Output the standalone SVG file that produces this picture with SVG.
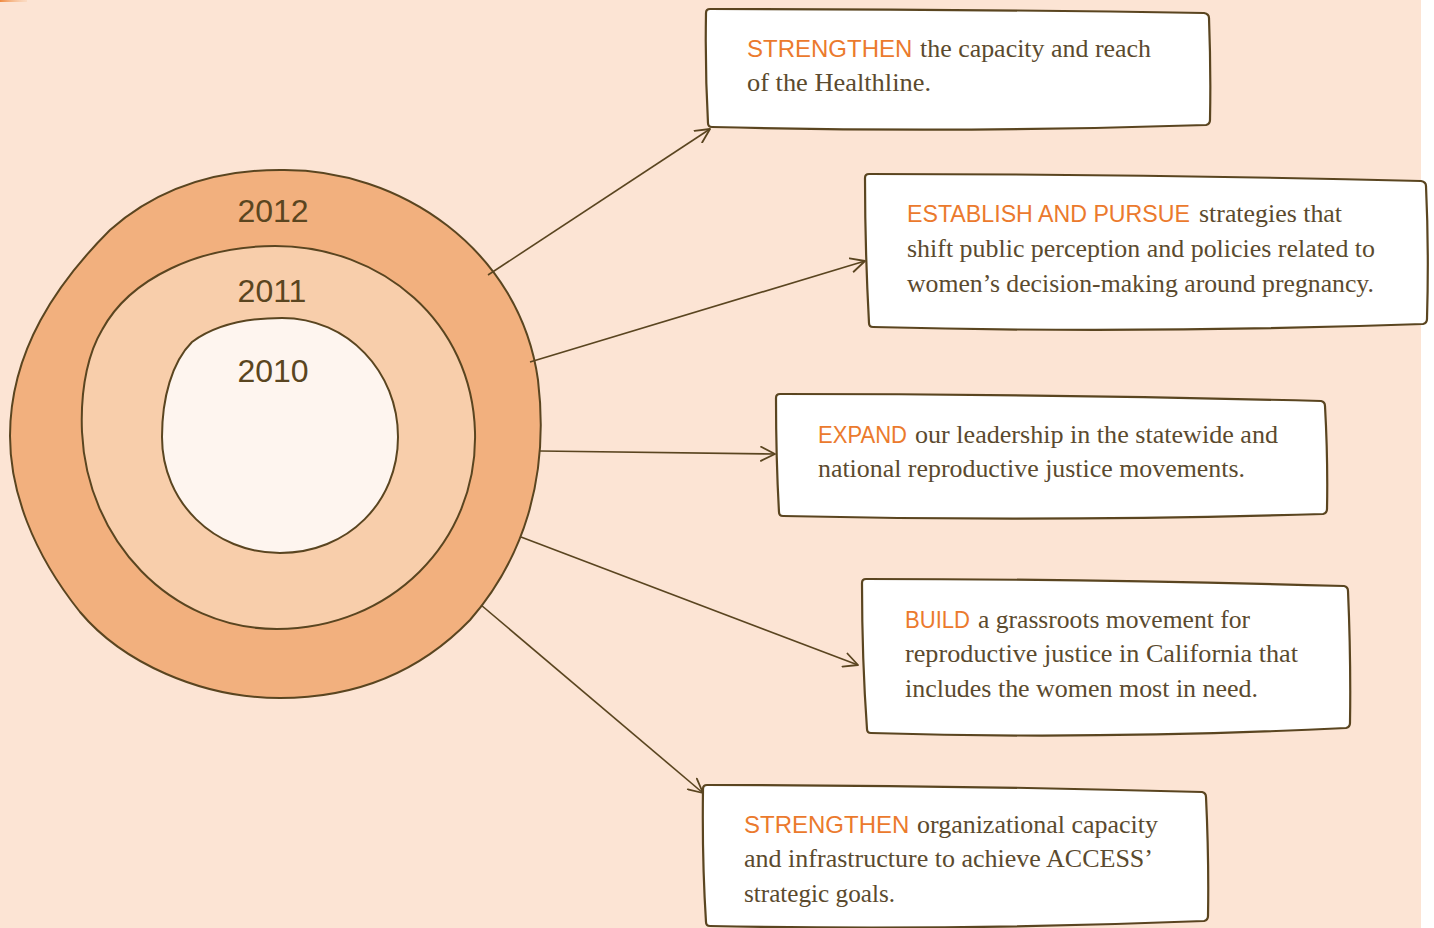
<svg xmlns="http://www.w3.org/2000/svg" width="1434" height="928" viewBox="0 0 1434 928">
<defs>
<style>
.bg{fill:#FCE4D4}
.ring{stroke:#5A4520;stroke-width:2}
.box{fill:#FFFFFF;stroke:#5A4520;stroke-width:2.2;stroke-linejoin:round}
.conn{stroke:#5A4520;stroke-width:1.6;fill:none}
.yr{font-family:"Liberation Sans",Arial,sans-serif;font-size:32px;fill:#5A4520;text-anchor:middle}
.hw{font-family:"Liberation Sans",Arial,sans-serif;font-size:24px;fill:#EB7A2D}
.sf{font-family:"Liberation Serif","Times New Roman",serif;font-size:25.5px;fill:#5B4A2E}
</style>
<linearGradient id="tl" x1="0" y1="0" x2="1" y2="0">
<stop offset="0" stop-color="#F08A40"/>
<stop offset="1" stop-color="#F8C8A0" stop-opacity="0.3"/>
</linearGradient>
<marker id="arr" viewBox="0 0 16 16" refX="15" refY="8" markerWidth="16" markerHeight="16" markerUnits="userSpaceOnUse" orient="auto">
<path d="M1,1 L15,8 L1,15" fill="none" stroke="#5A4520" stroke-width="1.8" stroke-linecap="round" stroke-linejoin="round"/>
</marker>
</defs>
<rect class="bg" x="0" y="0" width="1421" height="928"/>
<rect x="1421" y="0" width="13" height="928" fill="#FFFFFF"/>
<rect x="0" y="0" width="27" height="2" fill="url(#tl)"/>

<g id="rings">
<g id="ring-2012">
<path class="ring" fill="#F2B07E" d="M280,170 C400,168 520,250 538,380 C550,480 522,560 470,620 C410,682 340,698 280,698 C200,698 122,662 80,612 C32,552 10,490 10,436 C10,350 58,282 110,230 C160,186 220,170 280,170 Z"/>
<text class="yr" x="273" y="222">2012</text>
</g>
<g id="ring-2011">
<path class="ring" fill="#F8CEAB" d="M275,246 C382,246 472,322 475,432 C478,542 390,629 277,629 C170,629 87,540 82,432 C80,384 90,350 102,330 C130,278 200,246 275,246 Z"/>
<text class="yr" x="272" y="302">2011</text>
</g>
<g id="ring-2010">
<path class="ring" fill="#FEF5EF" d="M282,318 C348,318 398,372 398,437 C398,502 348,553 280,553 C214,553 162,502 162,437 C162,398 172,362 192,342 C215,325 245,318 282,318 Z"/>
<text class="yr" x="273" y="382">2010</text>
</g>
</g>

<g id="connectors">
<line class="conn" x1="488" y1="275" x2="710" y2="129" marker-end="url(#arr)"/>
<line class="conn" x1="530" y1="362" x2="865" y2="261" marker-end="url(#arr)"/>
<line class="conn" x1="540" y1="451" x2="775" y2="454" marker-end="url(#arr)"/>
<line class="conn" x1="521" y1="537" x2="858" y2="665" marker-end="url(#arr)"/>
<line class="conn" x1="481" y1="605" x2="703" y2="793" marker-end="url(#arr)"/>
</g>

<g id="box1">
<path class="box" d="M710,9 Q960,9 1204,13 Q1209,14 1209,18 Q1211,70 1210,120 Q1210,124 1206,125 Q960,133 712,127 Q708,127 708,123 Q705,70 706,13 Q706,9 710,9 Z"/>
<text class="hw" x="747" y="57">STRENGTHEN</text>
<text class="sf" x="920" y="57" textLength="231" lengthAdjust="spacingAndGlyphs">the capacity and reach</text>
<text class="sf" x="747" y="91" textLength="184" lengthAdjust="spacingAndGlyphs">of the Healthline.</text>
</g>

<g id="box2">
<path class="box" d="M869,174 Q1140,174 1421,181 Q1426,182 1426,186 Q1429,250 1427,319 Q1427,323 1423,324 Q1140,334 873,327 Q869,327 869,323 Q865,250 865,178 Q865,174 869,174 Z"/>
<text class="hw" x="907" y="222" textLength="283" lengthAdjust="spacingAndGlyphs">ESTABLISH AND PURSUE</text>
<text class="sf" x="1199" y="222" textLength="143" lengthAdjust="spacingAndGlyphs">strategies that</text>
<text class="sf" x="907" y="257" textLength="468" lengthAdjust="spacingAndGlyphs">shift public perception and policies related to</text>
<text class="sf" x="907" y="292" textLength="467" lengthAdjust="spacingAndGlyphs">women’s decision-making around pregnancy.</text>
</g>

<g id="box3">
<path class="box" d="M780,394 Q1050,394 1321,401 Q1325,402 1325,406 Q1328,460 1327,509 Q1327,513 1323,514 Q1050,522 783,516 Q779,516 779,512 Q776,460 776,398 Q776,394 780,394 Z"/>
<text class="hw" x="818" y="443" textLength="89" lengthAdjust="spacingAndGlyphs">EXPAND</text>
<text class="sf" x="915" y="443" textLength="363" lengthAdjust="spacingAndGlyphs">our leadership in the statewide and</text>
<text class="sf" x="818" y="477" textLength="427" lengthAdjust="spacingAndGlyphs">national reproductive justice movements.</text>
</g>

<g id="box4">
<path class="box" d="M866,579 Q1100,579 1344,586 Q1348,587 1348,591 Q1351,660 1350,723 Q1350,727 1346,728 Q1100,740 871,733 Q867,733 867,729 Q862,660 862,583 Q862,579 866,579 Z"/>
<text class="hw" x="905" y="628" textLength="65" lengthAdjust="spacingAndGlyphs">BUILD</text>
<text class="sf" x="978" y="628" textLength="272" lengthAdjust="spacingAndGlyphs">a grassroots movement for</text>
<text class="sf" x="905" y="662" textLength="393" lengthAdjust="spacingAndGlyphs">reproductive justice in California that</text>
<text class="sf" x="905" y="697" textLength="353" lengthAdjust="spacingAndGlyphs">includes the women most in need.</text>
</g>

<g id="box5">
<path class="box" d="M707,785 Q950,785 1202,792 Q1206,793 1206,797 Q1209,860 1208,916 Q1208,920 1204,921 Q950,931 710,926 Q706,926 706,922 Q702,860 703,789 Q703,785 707,785 Z"/>
<text class="hw" x="744" y="833">STRENGTHEN</text>
<text class="sf" x="917" y="833" textLength="241" lengthAdjust="spacingAndGlyphs">organizational capacity</text>
<text class="sf" x="744" y="867" textLength="409" lengthAdjust="spacingAndGlyphs">and infrastructure to achieve ACCESS’</text>
<text class="sf" x="744" y="902" textLength="151" lengthAdjust="spacingAndGlyphs">strategic goals.</text>
</g>
</svg>
